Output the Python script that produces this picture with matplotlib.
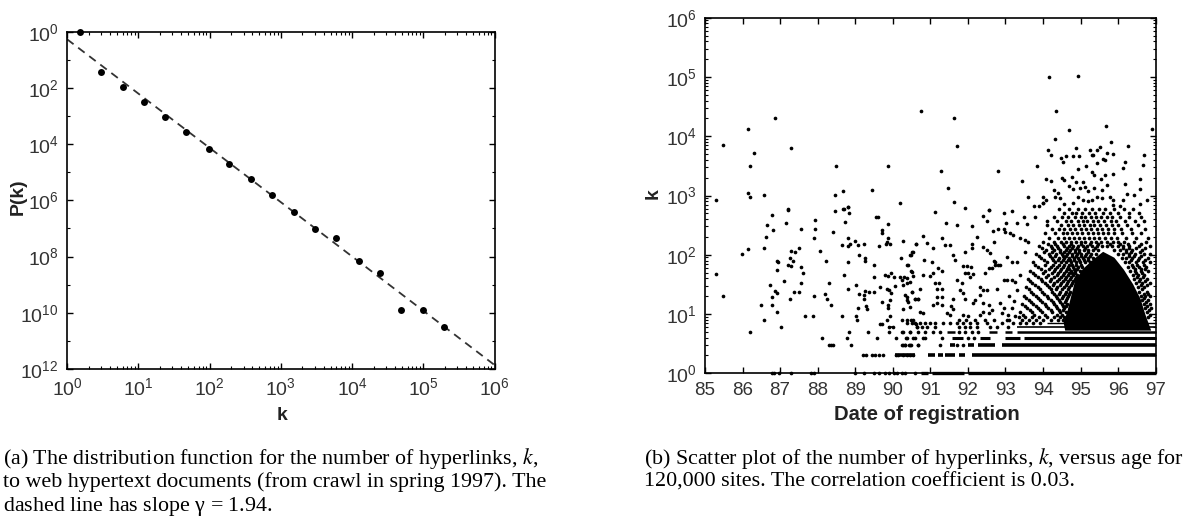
import numpy as np
import matplotlib
matplotlib.use("Agg")
import matplotlib.pyplot as plt

plt.rcParams['font.family'] = ['Liberation Sans', 'DejaVu Sans']
plt.rcParams['mathtext.fontset'] = 'stix'
plt.rcParams['mathtext.default'] = 'regular'

# ---- panel (a) ----
link_k = [1.5, 3, 6, 12, 24, 47, 97, 190, 380, 760, 1550, 3000, 6000, 12300, 24500, 49000, 98000, 195000]
link_p_exp = [0.02, 1.42, 1.97, 2.51, 3.04, 3.57, 4.18, 4.70, 5.25, 5.81, 6.41, 7.02, 7.34, 8.15, 8.60, 9.91, 9.91, 10.51]
fit_k = [1, 1e6]
fit_p_exp = [0.27, 11.86]
p_ticks = [0, 2, 4, 6, 8, 10, 12]
k_ticks = [0, 1, 2, 3, 4, 5, 6]

# ---- panel (b): (year, log10 k) ----
sparse_left = [
 (85.28,2.92),(85.49,3.86),(86.14,4.12),(86.30,3.72),(86.21,3.49),(86.14,3.04),(86.21,2.97),(86.56,3.01),
 (86.86,4.31),(87.28,3.80),(87.20,2.77),(88.48,3.49),(88.46,3.01),(88.68,3.08),(88.68,2.77),(88.80,2.80),
 (89.45,3.10),(89.86,3.50),(90.19,2.88),(90.74,4.43),(91.63,4.31),(91.71,3.83),(91.29,3.42),(92.80,3.42),
 (91.47,3.12),(91.63,2.89),(91.92,2.79),(92.57,2.76),(93.45,3.25),(93.84,3.50),(93.60,2.98),(93.76,2.83),
 (86.79,2.67),(87.20,2.75),(86.64,2.51),(87.15,2.54),(86.82,2.42),(86.62,2.30),(86.57,2.12),(87.55,2.44),
 (87.94,2.58),(87.93,2.43),(87.90,2.29),(88.42,2.39),(88.46,2.74),(88.70,2.78),(88.82,2.81),(88.84,2.70),
 (88.74,2.56),(89.54,2.64),(89.61,2.64),(89.86,2.52),(89.70,2.42),(89.71,2.36),(89.88,2.28),(89.84,2.22),
 (89.82,2.18),(89.93,2.19),(89.63,2.15),(88.81,2.28),(88.64,2.17),(88.82,2.15),(88.86,2.18),(88.99,2.23),
 (89.08,2.16),(89.24,2.18),(90.26,2.24),(90.62,2.18),(85.99,2.01),(86.14,2.10),(85.28,1.68),(85.49,1.30),
 (86.20,0.70),(86.49,1.15),(86.57,0.90),(86.79,1.15),(86.79,1.28),(86.86,1.39),(86.91,1.35),(86.73,1.49),
 (86.92,1.04),(87.03,0.78),(87.11,1.56),(86.92,1.89),(86.94,1.88),(86.92,1.75),(87.28,2.07),(87.40,2.04),
 (87.50,2.12),(87.26,1.95),(87.35,1.89),(87.22,1.83),(87.28,1.81),(87.55,1.80),(87.60,1.69),(87.55,1.53),
 (87.37,1.37),(87.50,1.37),(87.26,1.26),(87.65,0.96),(87.88,0.96),(87.90,1.30),(88.06,2.07),(88.22,1.90),
 (88.29,1.53),(88.20,1.34),(88.24,1.26),(88.36,1.15),(88.11,0.60),(88.65,0.96),(88.70,1.66),(88.82,1.87),
 (88.82,1.42),(88.83,0.70),(88.79,0.60),(88.88,0.48),(88.31,0.48),(88.36,0.48),(88.42,0.48),(89.01,1.49),
 (89.10,1.99),(89.27,1.94),(89.27,1.90),(89.50,1.82),(89.50,1.62),(89.79,1.66),(89.88,1.64),(89.95,1.70),
 (90.02,1.62),(89.67,1.46),(89.11,1.34),(89.25,1.39),(89.37,1.38),(89.50,1.38),(89.23,1.32),(89.23,1.26),
 (89.08,1.11),(89.29,1.13),(89.32,1.08),(89.02,0.96),(89.06,0.90),(89.35,0.70),(89.57,0.60),(89.66,0.84),
 (89.70,0.84),(89.84,0.90),(89.93,0.96),(89.88,1.11),(89.72,1.21),(89.86,1.15),(89.93,1.24),(89.84,1.42),
 (89.91,1.40),(89.95,1.35),(90.06,1.48),(90.28,1.49),(90.19,1.62),(90.25,1.57),(90.37,1.52),(90.46,1.54),
 (90.55,1.64),(90.48,1.73),(90.37,1.83),(90.22,1.94),(90.48,1.99),(90.53,2.05),(90.33,1.32),(90.37,1.24),
 (90.46,1.12),(90.28,1.08),(90.41,1.21),(90.59,1.25),(90.68,1.26),(90.50,1.38),(90.37,0.90),(90.48,0.90),
 (90.55,0.90),(90.62,0.84),(90.24,0.90),(90.64,0.78),(89.91,0.78),(90.00,0.78),(89.91,0.70),(90.08,0.60),
 (90.26,0.70),(90.46,0.70),(90.37,0.60),(90.59,0.60),(90.26,0.48),(90.33,0.48),(90.42,0.48),(90.48,0.48),(90.66,0.48),
]
sparse_middle = [
 (91.13,2.72),(91.41,2.54),(91.72,2.50),(92.10,2.49),(92.41,2.65),(92.57,2.75),(92.52,2.57),(92.95,2.71),
 (93.18,2.74),(93.02,2.54),(93.30,2.53),(93.57,2.52),(93.50,2.63),(93.78,2.64),(94.01,2.88),(93.90,2.82),
 (94.10,2.57),(90.81,2.31),(91.30,2.28),(90.62,2.19),(90.92,2.20),(91.06,2.11),(91.39,2.17),(91.51,2.16),
 (92.24,2.30),(92.10,2.19),(92.68,2.40),(92.81,2.44),(92.96,2.44),(92.99,2.39),(93.12,2.36),(93.19,2.33),
 (92.70,2.21),(93.39,2.29),(93.52,2.25),(93.61,2.22),(90.50,2.05),(90.46,2.00),(90.83,1.92),(91.04,1.87),
 (91.59,1.99),(91.66,1.91),(91.92,2.05),(92.10,2.11),(92.41,2.13),(92.52,2.08),(92.59,2.03),(93.52,2.05),
 (93.03,1.97),(92.70,1.90),(92.81,1.83),(92.86,1.83),(92.72,1.83),(93.17,1.88),(93.30,1.88),(90.40,1.83),
 (90.50,1.71),(90.30,1.63),(90.37,1.60),(90.81,1.66),(91.00,1.64),(91.21,1.77),(91.30,1.73),(91.08,1.69),
 (91.88,1.81),(91.97,1.81),(92.08,1.80),(91.92,1.69),(92.00,1.69),(92.13,1.67),(91.70,1.57),(91.84,1.52),
 (92.06,1.63),(92.55,1.77),(92.63,1.77),(92.46,1.70),(92.72,1.88),(91.13,1.53),(91.24,1.53),(91.19,1.42),
 (91.30,1.42),(90.73,1.43),(90.50,1.38),(90.37,1.29),(90.59,1.26),(90.68,1.26),(91.17,1.29),(91.30,1.29),
 (91.79,1.40),(91.88,1.35),(91.92,1.26),(91.61,1.25),(92.32,1.45),(92.41,1.40),(92.52,1.40),(92.32,1.32),
 (92.19,1.24),(92.13,1.18),(91.08,1.15),(91.17,1.18),(91.30,1.15),(90.73,1.04),(90.81,1.02),(91.54,1.13),
 (91.61,1.08),(91.44,1.01),(91.52,0.98),(91.88,0.98),(92.01,0.96),(92.41,1.18),(92.55,1.15),(92.63,1.07),
 (92.41,1.04),(92.32,0.98),(92.55,1.01),(92.86,1.18),(92.95,1.10),(92.90,1.01),(93.08,0.98),(93.03,0.90),
 (93.26,0.96),(92.77,1.43),(92.95,1.57),(93.03,1.57),(93.17,1.57),(93.26,1.54),(93.39,1.66),(93.10,1.30),
 (93.22,1.22),(93.31,1.40),(93.18,1.10),(92.70,0.90),(92.45,0.90),(92.20,0.90),(91.95,0.90),(91.75,0.90),
]
cloud_top = [
 (94.14,3.77),(94.21,3.69),(94.89,3.80),(95.26,3.77),(95.43,3.77),(95.52,3.82),(95.30,3.69),(95.34,3.69),
 (95.70,3.71),(95.86,3.70),(96.68,3.68),(94.49,3.64),(94.62,3.66),(94.79,3.66),(94.96,3.67),(94.53,3.57),
 (95.61,3.61),(95.66,3.60),(95.43,3.54),(96.18,3.57),(96.66,3.52),(96.12,3.46),(94.93,3.44),(95.15,3.49),
 (95.30,3.39),(95.36,3.35),(95.64,3.35),(95.55,3.28),(95.85,3.37),(96.58,3.28),(94.08,3.27),(94.21,3.24),
 (94.51,3.30),(94.57,3.26),(94.78,3.31),(94.89,3.22),(95.06,3.23),(95.70,3.17),(96.19,3.19),(96.59,3.11),
 (94.68,3.16),(94.99,3.12),(95.12,3.15),(95.21,3.08),(95.37,3.12),(95.56,3.10),(94.81,3.11),(94.28,3.09),
 (94.41,3.05),(96.41,3.01),(96.23,3.03),(94.00,2.97),(94.08,2.93),(94.00,2.88),(94.32,2.98),(94.45,2.95),
 (94.94,2.97),(95.06,2.92),(95.21,2.91),(95.30,2.93),(95.43,2.98),(95.56,2.95),(95.79,2.98),(95.87,2.92),
 (96.12,2.93),(96.76,2.92),(96.58,2.86),(94.56,2.86),(94.81,2.88),(95.87,2.84),(96.05,2.83),
 (94.16,5.00),(94.93,5.02),(94.34,4.43),(94.69,4.10),(95.67,4.18),(94.32,3.95),(95.82,3.91),(96.26,3.83),(96.91,4.12),
]
# cloud around the solid core, row by row: log10 k, then the years of the dots in that row
speckle_rows = [
 (2.78,[94.42,94.70,94.93,95.11,95.30,95.48,95.66,95.90,96.15,96.40]),
 (2.71,[94.55,94.76,94.88,95.05,95.22,95.39,95.60,95.77,96.00,96.28,96.55]),
 (2.64,[94.30,94.50,94.67,94.84,95.00,95.12,95.27,95.41,95.55,95.71,95.84,96.06,96.30,96.62]),
 (2.57,[94.36,94.60,94.74,94.92,95.06,95.18,95.33,95.47,95.63,95.80,95.95,96.17,96.44,96.70]),
 (2.50,[94.10,94.48,94.66,94.81,94.95,95.10,95.24,95.37,95.52,95.68,95.83,96.00,96.24,96.52]),
 (2.43,[94.24,94.42,94.57,94.71,94.86,95.02,95.15,95.28,95.44,95.58,95.72,95.88,96.08,96.33,96.72]),
 (2.36,[94.05,94.33,94.52,94.65,94.78,94.91,95.04,95.19,95.33,95.47,95.60,95.74,95.90,96.10,96.38,96.60]),
 (2.29,[94.16,94.40,94.56,94.70,94.83,94.97,95.09,95.23,95.36,95.50,95.65,95.80,95.97,96.20,96.47,96.80]),
 (2.22,[94.00,94.28,94.47,94.61,94.75,94.88,95.00,95.13,95.27,95.40,95.54,95.70,95.85,96.00,96.16,96.42,96.73]),
 (2.185,[94.12,94.33,94.52,94.74,95.02,95.24,95.47,95.78,96.05,96.25,96.62]),
 (2.15,[93.88,94.20,94.38,94.55,94.68,94.80,94.93,95.06,95.18,95.31,95.44,95.57,95.70,95.84,96.00,96.14,96.30,96.55,96.84]),
 (2.115,[93.98,94.25,94.41,94.64,94.76,94.90,95.12,95.38,96.12,96.30,96.48,96.72]),
 (2.08,[94.07,94.30,94.46,94.60,94.72,94.84,94.96,95.08,95.20,95.33,95.46,95.90,96.05,96.20,96.36,96.64]),
 (2.045,[94.02,94.24,94.44,94.56,94.70,94.84,94.97,95.20,96.20,96.34,96.58]),
 (2.01,[93.80,94.15,94.35,94.50,94.64,94.78,94.90,95.02,95.14,95.27,95.40,96.00,96.13,96.28,96.45,96.70,96.86]),
 (1.975,[93.88,94.18,94.31,94.52,94.62,94.77,94.87,95.00,95.12,95.25,96.28,96.41,96.62]),
 (1.94,[93.95,94.25,94.42,94.57,94.70,94.82,94.94,95.06,95.19,95.32,96.10,96.22,96.38,96.55,96.80]),
 (1.905,[94.02,94.27,94.40,94.53,94.66,94.73,94.83,94.95,95.08,95.20,96.34,96.52,96.72]),
 (1.87,[93.72,94.10,94.32,94.48,94.62,94.75,94.87,94.99,95.11,95.24,96.17,96.30,96.48,96.66,96.84]),
 (1.835,[93.79,94.06,94.26,94.42,94.57,94.70,94.78,94.88,95.01,96.36,96.50,96.70]),
 (1.80,[93.86,94.20,94.38,94.53,94.67,94.80,94.92,95.05,95.16,96.25,96.40,96.56,96.74]),
 (1.765,[93.95,94.16,94.33,94.49,94.63,94.70,94.82,94.91,96.44,96.60,96.72]),
 (1.73,[93.66,94.04,94.28,94.45,94.60,94.74,94.86,94.98,96.32,96.46,96.62,96.80]),
 (1.695,[93.72,94.00,94.24,94.40,94.56,94.69,94.77,94.85,96.48,96.64]),
 (1.66,[93.78,94.12,94.36,94.52,94.66,94.79,94.90,96.40,96.53,96.70]),
 (1.625,[93.86,94.08,94.30,94.47,94.62,94.75,94.88,96.50,96.66]),
 (1.59,[93.60,93.94,94.22,94.43,94.58,94.72,94.84,96.42,96.58,96.76]),
 (1.555,[93.65,93.98,94.18,94.36,94.53,94.67,94.80,96.56,96.72]),
 (1.52,[93.70,94.05,94.30,94.48,94.63,94.76,96.48,96.64,96.84]),
 (1.485,[93.78,94.10,94.26,94.44,94.60,94.74,96.60,96.78]),
 (1.45,[93.55,93.86,94.16,94.38,94.55,94.70,96.52,96.70]),
 (1.415,[93.62,93.93,94.20,94.34,94.50,94.66,96.64]),
 (1.38,[93.68,93.98,94.25,94.46,94.62,94.72,96.56,96.76]),
 (1.345,[93.74,94.03,94.30,94.42,94.58,94.70,96.68,96.80]),
 (1.31,[93.50,93.80,94.10,94.34,94.52,94.66,96.60,96.72,96.86]),
 (1.275,[93.56,93.86,94.14,94.36,94.50,94.64,96.70]),
 (1.24,[93.62,93.92,94.20,94.42,94.60,96.64,96.80]),
 (1.205,[93.68,93.98,94.26,94.46,94.58,96.74]),
 (1.17,[93.45,93.74,94.04,94.30,94.50,94.64,96.68,96.84]),
 (1.135,[93.52,93.80,94.08,94.34,94.52,94.62,96.78]),
 (1.10,[93.58,93.86,94.14,94.38,94.56,96.72,96.88]),
 (1.065,[93.64,93.92,94.20,94.42,94.54,96.82]),
 (1.03,[93.40,93.70,93.98,94.24,94.46,94.60,96.76]),
 (0.99,[93.46,93.76,94.04,94.36,94.50,96.85]),
 (0.954,[93.35,93.52,93.70,93.90,94.10,94.30,94.45,94.55,96.80]),
 (0.903,[93.10,93.44,93.62,93.80,94.00,94.20,94.40,94.52]),
 (0.845,[90.37,90.50,90.59,90.72,90.86,90.99,91.12,91.35,91.52,91.70,91.88,92.06,92.23,92.50,92.90,93.20,93.38,93.56,93.74,93.92]),
 (0.778,[90.64,90.77,90.90,91.12,91.75,91.92,92.06,92.23,92.59,92.77,93.08]),
 (0.699,[90.24,90.46,90.68,90.86,91.08,91.26,91.75,91.92,92.10,92.28]),
 (0.602,[90.35,90.55,90.81,90.86,91.30,92.01,92.15]),
 (0.477,[90.24,90.33,90.46,90.68,91.26,91.70,91.88]),
]
# outline of the solid black core of the cloud
blob_year = [94.59,94.55,94.65,94.75,94.85,95.05,95.30,95.60,95.90,96.15,96.40,96.60,96.72,96.88]
blob_logk = [0.72,0.85,1.05,1.30,1.55,1.75,1.90,2.05,1.95,1.75,1.50,1.25,1.00,0.72]

# integer k rows: isolated dots and runs of touching dots
k1_years = [86.78,86.84,86.96,87.28,87.81,87.90,89.00,89.23,89.49,89.63,89.80,89.89,90.02,90.11,90.24,90.33,90.59]
k2_years = [89.20,89.29,89.44,89.53,89.63,89.75,90.09,90.15,90.28,90.37,90.46,90.55]
k1_runs = [(90.75,90.95),(91.05,91.90),(92.00,97.0)]
k2_runs = [(90.06,90.59),(90.95,91.13),(91.21,91.35),(91.39,91.66),(91.75,91.92),(92.10,97.0)]
k3_runs = [(91.52,91.66),(92.00,92.15),(92.28,92.72),(92.90,97.0)]
k4_runs = [(91.57,91.88),(92.32,92.60),(92.99,93.40),(93.50,97.0)]
k5_runs = [(91.44,91.66),(92.55,92.77),(92.99,93.17),(93.30,97.0)]
k6_runs = [(89.88,90.01),(93.30,97.0)]
k7_runs = [(94.10,97.0)]
rows = {1: k1_runs, 2: k2_runs, 3: k3_runs, 4: k4_runs, 5: k5_runs, 6: k6_runs, 7: k7_runs}
row_widths = {1: 2.4, 2: 2.6, 3: 2.6, 4: 2.2, 5: 1.8, 6: 1.2, 7: 1.0}

year_ticks = list(range(85, 98))
exp_ticks = [0, 1, 2, 3, 4, 5, 6]

W, H = 1183, 520
fig = plt.figure(figsize=(W / 100, H / 100), dpi=100)
TC = '#333333'
DOT = 7

def box(l, t, r, b):
    return [l / W, 1 - b / H, (r - l) / W, (b - t) / H]

# (a)
ax = fig.add_axes(box(67.1, 31.7, 494.6, 369))
ax.set_xscale('log')
ax.set_yscale('log')
ax.set_xlim(1, 1e6)
ax.set_ylim(1e-12, 1)
ax.plot(fit_k, 10.0 ** -np.array(fit_p_exp), color='#333333', lw=1.3, dashes=(4.5, 3.2), zorder=2)
ax.plot(link_k, 10.0 ** -np.array(link_p_exp), 'o', color='black', ms=5, mec='none', zorder=3, clip_on=False)
ax.set_xticks([10.0 ** e for e in k_ticks])
ax.set_xticklabels([f'$10^{{{e}}}$' for e in k_ticks], color=TC, fontsize=14)
ax.xaxis.set_minor_locator(matplotlib.ticker.LogLocator(base=10, subs=np.arange(2, 10), numticks=20))
ax.xaxis.set_minor_formatter(matplotlib.ticker.NullFormatter())
ax.set_yticks([10.0 ** -e for e in p_ticks])
ax.set_yticklabels([f'$10^{{{e}}}$' for e in p_ticks], color=TC, fontsize=14)
ax.yaxis.set_minor_locator(matplotlib.ticker.FixedLocator([10.0 ** -e for e in (1, 3, 5, 7, 9, 11)]))
ax.yaxis.set_minor_formatter(matplotlib.ticker.NullFormatter())
ax.tick_params(which='major', direction='in', top=True, right=True, length=4, width=1, pad=6)
ax.tick_params(which='minor', direction='in', top=True, right=True, length=2.2, width=0.8)
for s in ax.spines.values():
    s.set_linewidth(1.2)

# (b)
bx = fig.add_axes(box(705, 17.7, 1155.7, 373.3))
bx.set_yscale('log')
bx.set_xlim(85, 97)
bx.set_ylim(1, 1e6)
pts = np.array(sparse_left + sparse_middle + cloud_top)
bx.scatter(pts[:, 0], 10.0 ** pts[:, 1], s=DOT, c='black', linewidths=0, zorder=3)
for logk, years in speckle_rows:
    bx.scatter(years, [10.0 ** logk] * len(years), s=DOT, c='black', linewidths=0, zorder=3)
bx.fill(blob_year, 10.0 ** np.array(blob_logk), color='black', lw=0, zorder=3)
bx.scatter(k1_years, [1] * len(k1_years), s=DOT, c='black', linewidths=0, zorder=3, clip_on=False)
bx.scatter(k2_years, [2] * len(k2_years), s=DOT, c='black', linewidths=0, zorder=3)
for k, runs in rows.items():
    for x0, x1 in runs:
        bx.plot([x0, x1], [k, k], color='black', lw=row_widths[k], solid_capstyle='butt', zorder=3, clip_on=False)
bx.set_xticks(year_ticks)
bx.set_xticklabels([str(y) for y in year_ticks], color=TC, fontsize=13.5)
bx.set_yticks([10.0 ** e for e in exp_ticks])
bx.set_yticklabels([f'$10^{{{e}}}$' for e in exp_ticks], color=TC, fontsize=14)
bx.yaxis.set_minor_locator(matplotlib.ticker.LogLocator(base=10, subs=np.arange(2, 10), numticks=20))
bx.yaxis.set_minor_formatter(matplotlib.ticker.NullFormatter())
bx.tick_params(which='major', direction='in', top=True, right=True, length=4, width=1, pad=6)
bx.tick_params(which='minor', direction='in', right=True, length=2.2, width=0.8)
for s in bx.spines.values():
    s.set_linewidth(1.2)

# axis titles
lab = dict(fontweight='bold', color='#222222', ha='center', va='center')
fig.text(282 / W, 1 - 415 / H, 'k', fontsize=14, **lab)
fig.text(18.5 / W, 1 - 197 / H, 'P(k)', fontsize=14, rotation=90, **lab)
fig.text(927 / W, 1 - 415 / H, 'Date of registration', fontsize=14.6, **lab)
fig.text(653 / W, 1 - 194 / H, 'k', fontsize=14, rotation=90, **lab)

# captions
cap = dict(family='Liberation Serif', fontsize=15.85, color='black', va='baseline', ha='left')
captions = [
    (3, 464, r'(a) The distribution function for the number of hyperlinks, $\mathit{k}$,'),
    (3, 487, 'to web hypertext documents (from crawl in spring 1997). The'),
    (3, 510.5, r'dashed line has slope $\gamma$ = 1.94.'),
    (644, 464, r'(b) Scatter plot of the number of hyperlinks, $\mathit{k}$, versus age for'),
    (644, 487, '120,000 sites. The correlation coefficient is 0.03.'),
]
for x, y, t in captions:
    fig.text(x / W, 1 - y / H, t, **cap)

fig.savefig('out.png', dpi=100)
